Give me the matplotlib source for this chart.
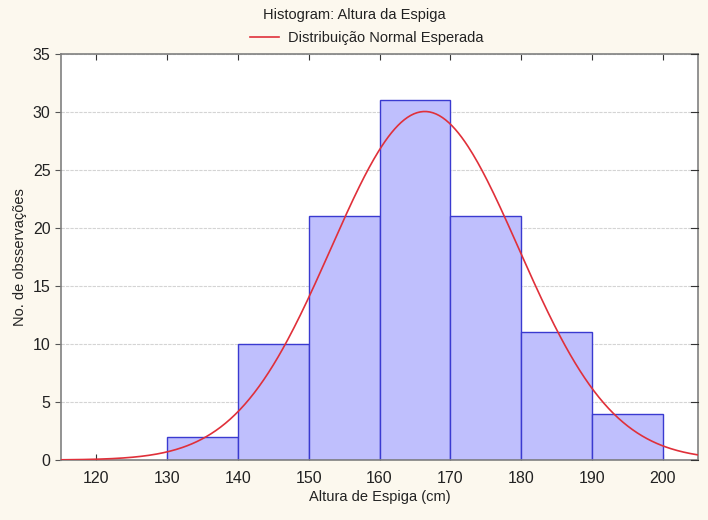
import numpy as np
import matplotlib.pyplot as plt

# frequency table: class edges and counts
bin_edges = [130, 140, 150, 160, 170, 180, 190, 200]
counts = [2, 10, 21, 31, 21, 11, 4]
n_obs = 100
mean = 166.4
sd = 13.28
bin_width = 10

plt.rcParams['font.family'] = ['Liberation Sans', 'DejaVu Sans']

bg = '#fcf8ee'
fig = plt.figure(figsize=(7.08, 5.2), dpi=100, facecolor=bg)
ax = fig.add_axes([0.0862, 0.1154, 0.8997, 0.7808])
ax.set_facecolor('white')

lefts = bin_edges[:-1]
ax.bar(lefts, counts, width=bin_width, align='edge', color='#bfbffd',
       edgecolor='#3a3ad0', linewidth=1.0, zorder=2)

# expected counts under a normal distribution
x = np.linspace(115, 205, 400)
y = n_obs * bin_width / (sd * np.sqrt(2 * np.pi)) * np.exp(-0.5 * ((x - mean) / sd) ** 2)
ax.plot(x, y, color='#e0303a', linewidth=1.2, zorder=3,
        label='Distribuição Normal Esperada')

ax.set_xlim(115, 205)
ax.set_ylim(0, 35)
ax.set_xticks(range(120, 201, 10))
ax.set_yticks(range(0, 36, 5))
ax.yaxis.grid(True, color='#d4d4d4', linestyle=(0, (3, 1)), linewidth=0.8, zorder=0)
ax.set_axisbelow(True)

ax.tick_params(axis='x', direction='in', top=True, length=4, labelsize=11.5, pad=8, colors='#333333', labelcolor='#222222')
ax.tick_params(axis='y', direction='out', right=False, length=4, labelsize=11.5, colors='#555555', labelcolor='#222222')
# small inward ticks on the right edge
for v in range(0, 36, 5):
    ax.plot([204, 205], [v, v], color='#333333', linewidth=0.8, clip_on=False, zorder=4)

for s in ax.spines.values():
    s.set_color('#808080')
    s.set_linewidth(1.2)

ax.set_xlabel('Altura de Espiga (cm)', fontsize=10.5, labelpad=3, color='#222222')
ax.set_ylabel('No. de obsservações', fontsize=10.5, labelpad=4, color='#222222')

fig.text(0.5, 0.972, 'Histogram: Altura da Espiga', ha='center', va='center', fontsize=10.5, color='#222222')
leg = ax.legend(loc='lower center', bbox_to_anchor=(0.48, 1.0), frameon=False, fontsize=10.5,
                handlelength=2.0, handletextpad=0.6, borderaxespad=0.2)
for t in leg.get_texts():
    t.set_color('#222222')

fig.savefig('out.png', dpi=100, facecolor=bg)
